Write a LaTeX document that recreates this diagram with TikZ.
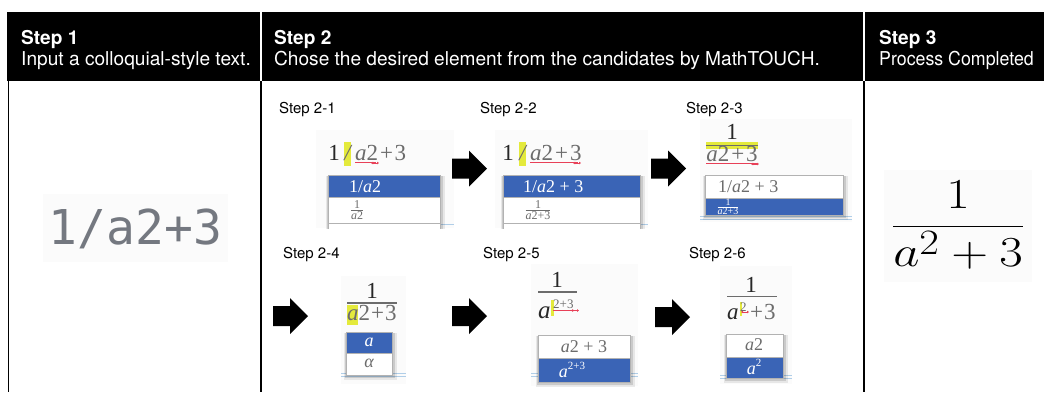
\documentclass[tikz,border=0pt]{standalone}
\usepackage{graphicx}
\usepackage[no-math]{fontspec}
\setmainfont{TeX Gyre Heros}
\newfontfamily\edserif{Liberation Serif}
\newfontfamily\edmono{DejaVu Sans Mono}
\usetikzlibrary{arrows.meta}

\definecolor{selblue}{RGB}{58,100,182}
\definecolor{fgray}{RGB}{108,108,108}
\definecolor{dgray}{RGB}{40,40,40}
\definecolor{hlyel}{RGB}{228,234,60}
\definecolor{hlred}{RGB}{232,64,88}
\definecolor{lblue}{RGB}{176,206,232}
\definecolor{monogray}{RGB}{116,120,128}

% editor formulas: Times-like serif
\newcommand\fxsz[1]{\edserif\fontsize{#1}{#1}\selectfont}
\newcommand\ita[1]{{\itshape #1}}
\newcommand\tfr[2]{$\frac{\hbox{#1}}{\hbox{#2}}$}
% faint drop shadow behind a candidate list
\newcommand\ddshade[4]{%
  \fill[black,opacity=.08] (#1-2,#2+1) rectangle (#3+5,#4+5);
  \fill[black,opacity=.12] (#1-1,#2+1) rectangle (#3+3,#4+3);}
% small red caret marks of the editor
\newcommand\redmark[2]{%
  \draw[hlred,line width=.7,{Latex[length=2pt,width=3pt]}-{Latex[length=2pt,width=3pt]}] (#1-4,#2) -- (#1+4,#2);}
% block arrow between the stages: left end x, centre y
\newcommand\blockarrow[2]{%
  \fill[black] (#1,#2-10) -- (#1+17,#2-10) -- (#1+17,#2-18) -- (#1+35,#2)
    -- (#1+17,#2+18) -- (#1+17,#2+10) -- (#1,#2+10) -- cycle;}

\tikzset{
  hdr/.style={font=\fontsize{19.1}{23}\selectfont, text=white, anchor=base west, inner sep=0},
  hdrb/.style={hdr, font=\fontsize{19.1}{23}\selectfont\bfseries},
  lbl/.style={font=\fontsize{15}{18}\selectfont, anchor=base west, inner sep=0},
  ed/.style={font=\fxsz{23}, text=fgray, anchor=base, inner sep=0},
  edw/.style={ed, anchor=base west},
  num/.style={ed, text=dgray},
  rowtxt/.style={font=\fxsz{18}, inner sep=0},
  sel/.style={fill=selblue, draw=black!30, line width=.5},
  opt/.style={fill=white, draw=black!30, line width=.5},
  shot/.style={fill=black!1.5},
  bar/.style={draw=fgray, line width=1.1},
  rule/.style={draw=black, line width=1.6},
}

\begin{document}
\begin{tikzpicture}[x=1pt,y=-1pt]
\useasboundingbox (0,0) rectangle (1044,392);
\fill[white] (0,0) rectangle (1044,392);

% ---------- header band ----------
\fill[black] (7,12) rectangle (1044,81);
\draw[white,line width=1.6] (261,12) -- (261,81);
\draw[white,line width=1.6] (864,12) -- (864,81);
\draw[rule] (8.5,81) -- (8.5,392);
\draw[rule] (261,81) -- (261,392);
\draw[rule] (864,81) -- (864,392);

\node[hdrb] (h1a) at (21,44) {Step 1};
\node[hdr]  (h1b) at (21,65) {Input a colloquial-style text.};
\node[hdrb] (h2a) at (274,44) {Step 2};
\node[hdr]  (h2b) at (274,65) {Chose the desired element from the candidates by MathTOUCH.};
\node[hdrb] (h3a) at (879,44) {Step 3};
\node[hdr]  (h3b) at (879,65) {\scalebox{0.93}[1]{Process Completed}};

% ---------- Step 1 ----------
\fill[shot] (43,194) rectangle (228,262);
\node[font=\edmono\fontsize{48}{48}\selectfont, text=monogray, anchor=base, inner sep=0]
  (in) at (135.5,244) {1/a2+3};

% ---------- Step 3 ----------
\fill[shot] (884,170) rectangle (1032,282);
\node[font=\fontsize{24.88}{30}\selectfont, inner sep=0, anchor=base] (out) at (958,237.5)
  {\scalebox{2.05}[1.72]{$\displaystyle\frac{1}{a^2+3}$}};

% ---------- Step 2 labels ----------
\node[lbl] (l1) at (279,113) {Step 2-1};
\node[lbl] (l2) at (480,113) {Step 2-2};
\node[lbl] (l3) at (686,113) {Step 2-3};
\node[lbl] (l4) at (283,258) {Step 2-4};
\node[lbl] (l5) at (483,258) {Step 2-5};
\node[lbl] (l6) at (689,258) {Step 2-6};

% ---------- Step 2-1 ----------
\begin{scope}
\clip (316,130) rectangle (454,228);
\fill[shot] (316,130) rectangle (454,228);
\fill[hlyel] (344,142) rectangle (351,166);
\node[num] (s1a) at (334,160) {1};
\node[ed]  (s1b) at (347.5,160) {\ita{/}};
\node[edw] (s1c) at (355,160) {\ita{a}2};
\node[edw] (s1d) at (380,160) {+\kern1.5pt3};
\draw[hlred,line width=1] (355,162.5) -- (376,162.5);
\redmark{375}{163}
\draw[lblue,line width=.8] (328,224.5) -- (454,224.5);
\ddshade{328}{175}{440}{228}
\fill[sel] (328,175) rectangle (440,197);
\fill[opt] (328,197) rectangle (440,223);
\fill[opt] (328,223) rectangle (440,240);
\node[rowtxt, text=white, anchor=base west] (c1a) at (349,192) {1/\ita{a}2};
\node[font=\fxsz{12}, text=fgray, inner sep=0] (c1b) at (357,210) {\tfr{1}{\ita{a}2}};
\end{scope}

\blockarrow{452}{168.5}

% ---------- Step 2-2 ----------
\begin{scope}
\clip (495,130) rectangle (648,228);
\fill[shot] (495,130) rectangle (648,228);
\fill[hlyel] (519,142) rectangle (526,166);
\node[num] (s2a) at (508,160) {1};
\node[ed]  (s2b) at (522.5,160) {\ita{/}};
\node[edw] (s2c) at (530,160) {\ita{a}2\kern2pt+\kern2pt3};
\draw[hlred,line width=1] (530,162.5) -- (578,162.5);
\redmark{577}{163}
\draw[lblue,line width=.8] (503,224.5) -- (648,224.5);
\ddshade{503}{175}{640}{228}
\fill[sel] (503,175) rectangle (640,197);
\fill[opt] (503,197) rectangle (640,223);
\fill[opt] (503,223) rectangle (640,240);
\node[rowtxt, text=white, anchor=base west] (c2a) at (523,192) {1/\ita{a}2 + 3};
\node[font=\fxsz{12}, text=fgray, inner sep=0] (c2b) at (538,210) {\tfr{1}{\ita{a}2+3}};
\end{scope}

\blockarrow{651}{168.5}

% ---------- Step 2-3 ----------
\fill[shot] (700,119) rectangle (852,222);
\fill[hlyel] (706,142) rectangle (758,148.5);
\draw[bar] (706,145.5) -- (758,145.5);
\node[num] (s3a) at (732,139.5) {1};
\node[ed]  (s3b) at (732,161) {\ita{a}2\kern2pt+\kern2pt3};
\draw[hlred,line width=1] (706,163.5) -- (757,163.5);
\redmark{755}{164}
\draw[lblue,line width=.8] (700,216) -- (852,216);
\draw[lblue,line width=.8] (700,219) -- (852,219);
\ddshade{705}{175}{843}{215}
\fill[opt] (705,175) rectangle (843,198);
\fill[sel] (705,198) rectangle (843,215);
\node[rowtxt, text=fgray, anchor=base west] (c3a) at (718,192) {1/\ita{a}2 + 3};
\node[font=\fxsz{10}, text=white, inner sep=0] (c3b) at (728,207) {\color{white}\tfr{1}{\ita{a}2+3}};

% ---------- Step 2-4 ----------
\blockarrow{273}{316}
\fill[shot] (341,276) rectangle (406,384);
\fill[hlyel] (347,305) rectangle (358,325);
\draw[bar] (347,303) -- (397,303);
\node[num] (s4a) at (372,298) {1};
\node[edw] (s4b) at (347,320) {\ita{a}2\kern1pt+\kern1pt3};
\draw[lblue,line width=.8] (341,373) -- (406,373);
\draw[lblue,line width=.8] (341,376) -- (406,376);
\ddshade{346}{332}{392}{375}
\fill[sel] (346,332) rectangle (392,353);
\fill[opt] (346,353) rectangle (392,375);
\node[rowtxt, text=white] (c4a) at (369,342) {\ita{a}};
\node[rowtxt, text=fgray] (c4b) at (369,363) {\ita{α}};

% ---------- Step 2-5 ----------
\blockarrow{452}{316}
\fill[shot] (531,264) rectangle (638,386);
\draw[bar] (538,292) -- (577,292);
\node[num] (s5a) at (557,287) {1};
\node[num, anchor=base west, font=\fxsz{25}] (s5b) at (538,318) {\ita{a}};
\fill[hlyel] (551,300) rectangle (553.5,316);
\node[font=\fxsz{13}, text=fgray, anchor=base west, inner sep=0] (s5c) at (553,308) {2+3};
\draw[hlred,line width=1] (553,310) -- (576,310);
\redmark{575}{310.5}
\draw[lblue,line width=.8] (531,373) -- (638,373);
\draw[lblue,line width=.8] (531,376) -- (638,376);
\ddshade{538}{335}{630}{382}
\fill[opt] (538,335) rectangle (630,358);
\fill[sel] (538,358) rectangle (630,382);
\node[rowtxt, text=fgray] (c5a) at (584,347) {\ita{a}2 + 3};
\node[rowtxt, text=white] (c5b) at (572,370) {\ita{a}\raisebox{.45em}{\fontsize{11}{11}\selectfont 2+3}};

% ---------- Step 2-6 ----------
\blockarrow{655}{317}
\fill[shot] (720,266) rectangle (792,384);
\draw[bar] (727,296.5) -- (777,296.5);
\node[num] (s6a) at (751,292) {1};
\node[num, anchor=base west] (s6b) at (727,319) {\ita{a}};
\fill[hlyel] (739.5,302) rectangle (741.5,316);
\node[font=\fxsz{13}, text=fgray, anchor=base west, inner sep=0] (s6c) at (740,311) {2};
\redmark{745}{312}
\node[edw] (s6d) at (750,319) {+\kern1pt3};
\draw[lblue,line width=.8] (720,375) -- (792,375);
\draw[lblue,line width=.8] (720,378) -- (792,378);
\ddshade{726}{334}{783}{378}
\fill[opt] (726,334) rectangle (783,357);
\fill[sel] (726,357) rectangle (783,378);
\node[rowtxt, text=fgray] (c6a) at (754,345) {\ita{a}2};
\node[rowtxt, text=white] (c6b) at (754,367) {\ita{a}\raisebox{.45em}{\fontsize{11}{11}\selectfont 2}};

\end{tikzpicture}
\end{document}
